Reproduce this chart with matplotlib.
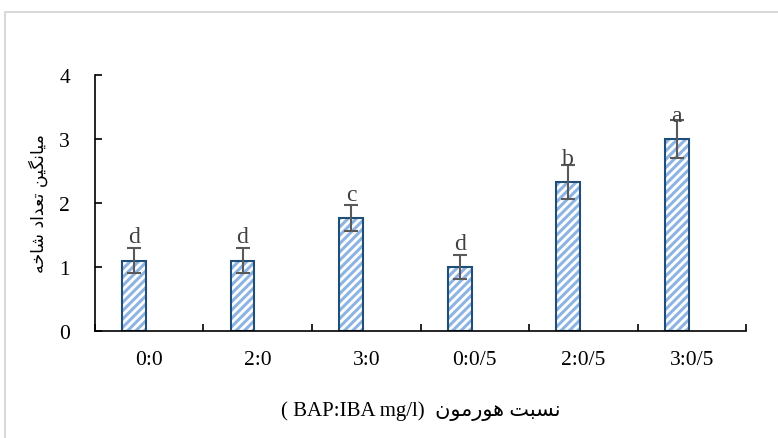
import numpy as np
import matplotlib.pyplot as plt
from matplotlib.patches import Rectangle

# داده ها
categories = ['0:0', '2:0', '3:0', '0:0/5', '2:0/5', '3:0/5']
means = [1.1, 1.1, 1.77, 1.0, 2.33, 3.0]
errors = [0.19, 0.19, 0.2, 0.19, 0.26, 0.3]
letters = ['d', 'd', 'c', 'd', 'b', 'a']

# Persian letters -> presentation forms (iso, fin, init, med)
forms = {
    'ا': ('\uFE8D', '\uFE8E', None, None),
    'ب': ('\uFE8F', '\uFE90', '\uFE91', '\uFE92'),
    'ت': ('\uFE95', '\uFE96', '\uFE97', '\uFE98'),
    'خ': ('\uFEA5', '\uFEA6', '\uFEA7', '\uFEA8'),
    'د': ('\uFEA9', '\uFEAA', None, None),
    'ر': ('\uFEAD', '\uFEAE', None, None),
    'س': ('\uFEB1', '\uFEB2', '\uFEB3', '\uFEB4'),
    'ش': ('\uFEB5', '\uFEB6', '\uFEB7', '\uFEB8'),
    'ع': ('\uFEC9', '\uFECA', '\uFECB', '\uFECC'),
    'م': ('\uFEE1', '\uFEE2', '\uFEE3', '\uFEE4'),
    'ن': ('\uFEE5', '\uFEE6', '\uFEE7', '\uFEE8'),
    'ه': ('\uFEE9', '\uFEEA', '\uFEEB', '\uFEEC'),
    'و': ('\uFEED', '\uFEEE', None, None),
    'ی': ('\uFBFC', '\uFBFD', '\uFBFE', '\uFBFF'),
    'گ': ('\uFB92', '\uFB93', '\uFB94', '\uFB95'),
}


def shape(text):
    out = []
    for i, ch in enumerate(text):
        if ch not in forms:
            out.append(ch)
            continue
        prev = text[i - 1] if i > 0 else ''
        nxt = text[i + 1] if i + 1 < len(text) else ''
        jp = prev in forms and forms[prev][2] is not None
        jn = forms[ch][2] is not None and nxt in forms
        iso, fin, ini, med = forms[ch]
        if jp and jn:
            out.append(med)
        elif jp:
            out.append(fin)
        elif jn:
            out.append(ini)
        else:
            out.append(iso)
    return ''.join(out)[::-1]


ylabel_fa = shape('میانگین تعداد شاخه')
xlabel_fa = shape('نسبت هورمون')

fig = plt.figure(figsize=(7.78, 4.39), dpi=100)
ax = fig.add_axes([0.1221, 0.2437, 0.8368, 0.5832])

# قاب خاکستری
fig.patches.append(Rectangle((5 / 778, -0.05), 1.2, (439 - 13) / 439 + 0.05,
                             transform=fig.transFigure, fill=False,
                             edgecolor='#d9d9d9', linewidth=1.5))

x = np.arange(len(categories)) - 0.14
w = 0.22
plt.rcParams['hatch.linewidth'] = 2.2
ax.bar(x, means, w, color='white', edgecolor='#8db4e2', hatch='////', linewidth=0)
ax.bar(x, means, w, fill=False, edgecolor='#1f4e79', linewidth=1.5)
ax.errorbar(x, means, yerr=errors, fmt='none', ecolor='#595959',
            elinewidth=1.5, capsize=5, capthick=1.5)

for xi, m, lt in zip(x, means, letters):
    ax.text(xi, m + 0.37, lt, ha='center', va='center', fontsize=17,
            family='Liberation Serif', color='#404040')

ax.set_xlim(-0.5, 5.5)
ax.set_ylim(0, 4)
ax.set_yticks([0, 1, 2, 3, 4])
ax.set_xticks(np.arange(-0.5, 6, 1))
ax.set_xticklabels([])
ax.set_xticks(np.arange(len(categories)), minor=True)
ax.set_xticklabels(categories, minor=True)
ax.tick_params(axis='x', which='major', direction='in', length=5, width=1.2)
ax.tick_params(axis='x', which='minor', length=0, pad=14)
ax.tick_params(axis='y', direction='in', length=5, width=1.2, pad=18)
for lab in ax.get_xticklabels(minor=True) + ax.get_yticklabels():
    lab.set_family('Liberation Serif')
    lab.set_fontsize(15.5)
for s in ['top', 'right']:
    ax.spines[s].set_visible(False)
for s in ['left', 'bottom']:
    ax.spines[s].set_linewidth(1.2)

ax.set_ylabel(ylabel_fa, family='DejaVu Sans', fontsize=12.5, labelpad=8)
ax.set_xlabel('( BAP:IBA mg/l)  ' + xlabel_fa, family=['Liberation Serif', 'DejaVu Sans'],
              fontsize=15, labelpad=22)

fig.savefig('out.png', dpi=100)
